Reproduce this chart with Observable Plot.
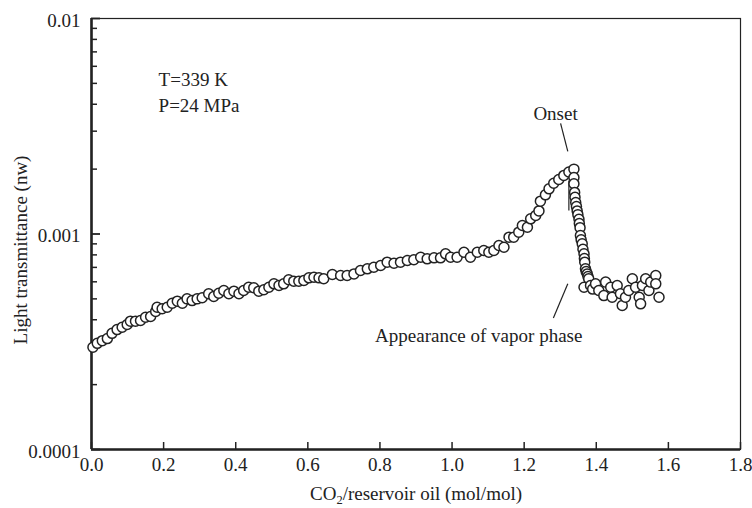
<!DOCTYPE html>
<html>
<head>
<meta charset="utf-8">
<script src="https://cdn.jsdelivr.net/npm/d3@7"></script>
<script src="https://cdn.jsdelivr.net/npm/@observablehq/plot@0.6"></script>
<style>
  html, body { margin: 0; padding: 0; background: #fff; }
</style>
</head>
<body>
<div id="chart"></div>
<script>
// ---- data ----
const co2Ratio = [
  0.004,0.016,0.030,0.044,0.057,0.071,0.085,0.099,0.108,0.122,0.136,0.150,0.164,0.178,0.182,0.196,
  0.210,0.224,0.238,0.252,0.265,0.279,0.293,0.307,0.325,0.339,0.353,0.367,0.381,0.395,0.409,0.422,
  0.436,0.450,0.464,0.478,0.492,0.506,0.520,0.533,0.547,0.561,0.575,0.589,0.603,0.617,0.631,0.644,
  0.668,0.691,0.709,0.728,0.746,0.765,0.783,0.802,0.820,0.839,0.857,0.876,0.894,0.913,0.931,0.950,
  0.968,0.982,0.996,1.014,1.033,1.051,1.070,1.088,1.102,1.116,1.130,1.144,1.158,1.171,1.185,1.195,
  1.209,1.218,1.232,1.241,1.245,1.259,1.269,1.282,1.296,1.310,1.324,1.338,1.338,1.338,1.340,1.341,
  1.343,1.345,1.347,1.349,1.352,1.353,1.355,1.356,1.358,1.361,1.363,1.366,1.367,1.368,1.370,1.372,
  1.375,1.377,1.379,1.366,1.384,1.390,1.398,1.407,1.421,1.426,1.440,1.444,1.458,1.467,1.472,1.481,
  1.490,1.500,1.509,1.519,1.523,1.528,1.537,1.546,1.551,1.565,1.565,1.574
];
const transmittance = [
  2.98e-4,3.11e-4,3.20e-4,3.27e-4,3.46e-4,3.60e-4,3.69e-4,3.80e-4,3.94e-4,3.94e-4,3.97e-4,4.11e-4,4.14e-4,4.37e-4,4.57e-4,4.50e-4,
  4.57e-4,4.77e-4,4.88e-4,4.77e-4,5.00e-4,4.91e-4,5.00e-4,5.06e-4,5.28e-4,5.13e-4,5.31e-4,5.47e-4,5.28e-4,5.43e-4,5.28e-4,5.47e-4,
  5.66e-4,5.63e-4,5.43e-4,5.51e-4,5.66e-4,5.87e-4,5.77e-4,5.87e-4,6.13e-4,6.04e-4,6.04e-4,6.09e-4,6.26e-4,6.30e-4,6.26e-4,6.20e-4,
  6.49e-4,6.42e-4,6.42e-4,6.53e-4,6.77e-4,6.89e-4,7.01e-4,7.14e-4,7.40e-4,7.32e-4,7.40e-4,7.53e-4,7.59e-4,7.80e-4,7.67e-4,7.75e-4,
  7.75e-4,8.09e-4,7.80e-4,7.80e-4,8.23e-4,7.80e-4,8.23e-4,8.38e-4,8.23e-4,8.38e-4,8.84e-4,8.68e-4,9.67e-4,9.67e-4,1.02e-3,1.095e-3,
  1.075e-3,1.176e-3,1.218e-3,1.28e-3,1.42e-3,1.52e-3,1.62e-3,1.72e-3,1.79e-3,1.87e-3,1.94e-3,2.00e-3,1.83e-3,1.71e-3,1.56e-3,1.48e-3,
  1.40e-3,1.34e-3,1.28e-3,1.23e-3,1.17e-3,1.12e-3,1.07e-3,9.84e-4,9.40e-4,9.00e-4,8.50e-4,8.09e-4,7.70e-4,7.40e-4,6.89e-4,6.70e-4,
  6.53e-4,6.35e-4,6.20e-4,5.66e-4,5.77e-4,5.55e-4,5.87e-4,5.47e-4,5.18e-4,5.98e-4,5.66e-4,5.09e-4,5.77e-4,5.28e-4,4.66e-4,5.09e-4,
  5.47e-4,6.20e-4,5.66e-4,5.09e-4,4.74e-4,5.77e-4,6.20e-4,5.47e-4,5.98e-4,6.42e-4,5.87e-4,5.09e-4
];

const xTicks = [0, 0.2, 0.4, 0.6, 0.8, 1.0, 1.2, 1.4, 1.6, 1.8];
const xTickLabels = ["0.0","0.2","0.4","0.6","0.8","1.0","1.2","1.4","1.6","1.8"];
const yMajorTicks = [0.0001, 0.001, 0.01];
const yTickLabels = ["0.0001", "0.001", "0.01"];
const yMinorTicks = [2e-4,3e-4,4e-4,5e-4,6e-4,7e-4,8e-4,9e-4,2e-3,3e-3,4e-3,5e-3,6e-3,7e-3,8e-3,9e-3];

const xTitle = "CO2/reservoir oil (mol/mol)";
const yTitle = "Light transmittance (nw)";

const annotationText = ["T=339 K", "P=24 MPa", "Onset", "Appearance of vapor phase"];
const annotationX = [0.186, 0.186, 1.287, 1.074];
const annotationY = [0.00521, 0.00391, 0.00362, 0.000338];
const annotationAnchor = ["start", "start", "middle", "middle"];

const leaderX1 = [1.301, 1.321, 1.324];
const leaderY1 = [0.00326, 0.000588, 0.00177];
const leaderX2 = [1.321, 1.281, 1.324];
const leaderY2 = [0.00242, 0.000408, 0.001285];

// ---- build ----
const W = 752, H = 508;
const mL = 91, mR = 12, mT = 18, mB = 59;
const plotW = W - mL - mR, plotH = H - mT - mB;
const ink = "#222";

const points = co2Ratio.map((x, i) => ({x, y: transmittance[i]}));
const annotations = annotationText.map((t, i) => ({t, x: annotationX[i], y: annotationY[i], a: annotationAnchor[i]}));
const leaders = leaderX1.map((x1, i) => ({x1, y1: leaderY1[i], x2: leaderX2[i], y2: leaderY2[i]}));

const chart = Plot.plot({
  width: W, height: H,
  marginLeft: mL, marginRight: mR, marginTop: mT, marginBottom: mB,
  style: {fontFamily: "'Liberation Serif', 'Times New Roman', serif", fontSize: "19px", color: ink, background: "#fff"},
  x: {domain: [0, 1.8], axis: null},
  y: {type: "log", domain: [0.0001, 0.01], axis: null},
  marks: [
    Plot.frame({stroke: ink, strokeWidth: 1.2}),
    Plot.tickY(yMinorTicks, {y: d => d, insetRight: plotW - 6, stroke: ink, strokeWidth: 1.5}),
    Plot.tickY(yMajorTicks, {y: d => d, insetRight: plotW - 9, stroke: ink, strokeWidth: 1.8}),
    Plot.tickX(xTicks, {x: d => d, insetTop: plotH - 7, stroke: ink, strokeWidth: 1.5}),
    Plot.ruleX([0], {stroke: ink, strokeWidth: 2.6}),
    Plot.ruleY([0.0001], {stroke: ink, strokeWidth: 2.6}),
    Plot.link(leaders, {x1: "x1", y1: "y1", x2: "x2", y2: "y2", stroke: ink, strokeWidth: 1.2}),
    Plot.dot(points, {x: "x", y: "y", r: 5, fill: "#fff", stroke: ink, strokeWidth: 1.5}),
    Plot.text(xTicks, {x: d => d, frameAnchor: "bottom", dy: 21, text: (d, i) => xTickLabels[i], fill: ink}),
    Plot.text(yMajorTicks, {y: d => d, frameAnchor: "left", dx: -11, dy: 2, textAnchor: "end", text: (d, i) => yTickLabels[i], fill: ink}),
    Plot.text([xTitle], {frameAnchor: "bottom", dy: 50, text: d => d, fill: ink}),
    Plot.text([yTitle], {frameAnchor: "left", dx: -71, dy: 16, rotate: -90, textAnchor: "middle", text: d => d, fill: ink}),
    Plot.text(annotations, {x: "x", y: "y", text: "t", textAnchor: "start", filter: d => d.a === "start", fill: ink}),
    Plot.text(annotations, {x: "x", y: "y", text: "t", textAnchor: "middle", filter: d => d.a === "middle", fill: ink})
  ]
});

// subscript 2 in the x title
chart.querySelectorAll("text").forEach(t => {
  if (t.textContent === xTitle) {
    t.textContent = "";
    const ns = "http://www.w3.org/2000/svg";
    const a = document.createElementNS(ns, "tspan"); a.textContent = "CO";
    const b = document.createElementNS(ns, "tspan"); b.textContent = "2";
    b.setAttribute("dy", "4"); b.setAttribute("font-size", "12.5px");
    const c = document.createElementNS(ns, "tspan"); c.textContent = "/reservoir oil (mol/mol)";
    c.setAttribute("dy", "-4");
    t.append(a, b, c);
  }
});

document.getElementById("chart").appendChild(chart);
</script>
</body>
</html>
